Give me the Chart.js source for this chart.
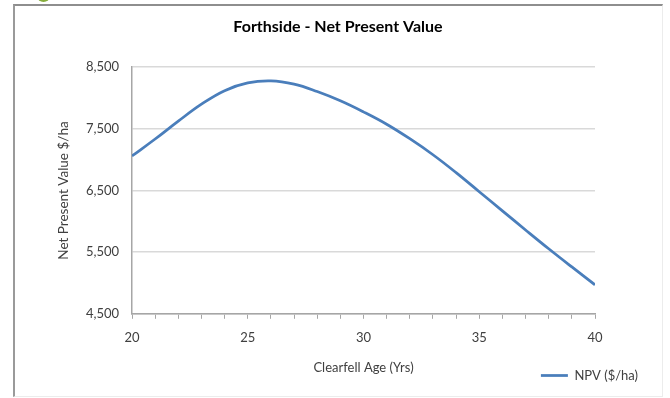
<!DOCTYPE html>
<html>
<head>
<meta charset="utf-8">
<script src="https://cdn.jsdelivr.net/npm/chart.js@4/dist/chart.umd.min.js"></script>
<style>
  html, body { margin: 0; padding: 0; background: #fff; }
  #wrap { position: relative; width: 670px; height: 398px; overflow: hidden; }
  #frame { position: absolute; left: 13px; top: 4px; width: 647px; height: 390px;
           border-left: 2px solid #9a9a9a; border-top: 2px solid #8e8e8e;
           border-right: 1px solid #ececec; border-bottom: 1px solid #ececec; }
  #dot { position: absolute; left: 37px; top: -10px; width: 13px; height: 12px;
         border-radius: 50%; background: #86ad3c; }
  #chart { position: absolute; left: 0; top: 0; }
</style>
</head>
<body>
<div id="wrap">
  <div id="frame"></div>
  <div id="dot"></div>
  <canvas id="chart" width="670" height="398"></canvas>
</div>
<script>
// clearfell age (years) and NPV ($/ha)
var ages = [20, 21, 22, 23, 24, 25, 26, 27, 28, 29, 30, 31, 32, 33, 34, 35, 36, 37, 38, 39, 40];
var npv = [7060, 7335, 7625, 7900, 8120, 8245, 8278, 8225, 8105, 7955, 7775, 7575, 7340, 7080, 6790, 6480, 6170, 5860, 5555, 5260, 4970];
var yTicks = [4500, 5500, 6500, 7500, 8500];

var points = ages.map(function(a, i) { return { x: a, y: npv[i] }; });
var font = "Lato, 'Liberation Sans', sans-serif";

new Chart(document.getElementById('chart'), {
  type: 'line',
  data: {
    datasets: [{
      label: 'NPV ($/ha)',
      data: points,
      borderColor: '#4a7ebb',
      backgroundColor: '#4a7ebb',
      borderWidth: 2.75,
      pointRadius: 0,
      tension: 0.4
    }]
  },
  options: {
    responsive: false,
    animation: false,
    layout: { padding: { left: 36, right: 30, top: 17, bottom: 6 } },
    plugins: {
      title: {
        display: true,
        text: 'Forthside - Net Present Value',
        color: '#000',
        font: { family: font, size: 16, weight: 'bold' },
        padding: { top: 0, bottom: 31 }
      },
      legend: {
        position: 'bottom',
        align: 'end',
        labels: {
          color: '#404040',
          font: { family: font, size: 13 },
          usePointStyle: true,
          pointStyle: 'line',
          pointStyleWidth: 27,
          padding: 2
        }
      },
      tooltip: { enabled: false }
    },
    scales: {
      x: {
        type: 'linear',
        min: 20,
        max: 40,
        border: { color: '#a6a6a6', width: 1.5 },
        grid: { drawOnChartArea: false, drawTicks: true, tickLength: 5, color: '#a6a6a6', lineWidth: 1 },
        ticks: {
          stepSize: 1,
          autoSkip: false,
          maxRotation: 0,
          padding: 11,
          color: '#404040',
          font: { family: font, size: 13 },
          callback: function(v) { return v % 5 === 0 ? v : ''; }
        },
        title: {
          display: true,
          text: 'Clearfell Age (Yrs)',
          color: '#404040',
          font: { family: font, size: 13 },
          padding: { top: 4, bottom: -9 }
        }
      },
      y: {
        min: 4500,
        max: 8500,
        afterFit: function(s) { s.width = 96; },
        afterBuildTicks: function(s) { s.ticks = yTicks.map(function(v) { return { value: v }; }); },
        border: { color: '#a6a6a6', width: 1.5 },
        grid: { color: '#d9d9d9', lineWidth: 1.5, drawTicks: false },
        ticks: {
          padding: 13,
          color: '#404040',
          font: { family: font, size: 13 },
          callback: function(v) { return v.toLocaleString('en-US'); }
        },
        title: {
          display: true,
          text: 'Net Present Value $/ha',
          color: '#404040',
          font: { family: font, size: 13.5 },
          padding: { top: 20, bottom: 0 }
        }
      },
      spacer: {
        position: 'right',
        display: true,
        afterFit: function(s) { s.width = 45; },
        border: { display: false },
        grid: { display: false },
        ticks: { display: false }
      }
    }
  }
});
</script>
</body>
</html>
